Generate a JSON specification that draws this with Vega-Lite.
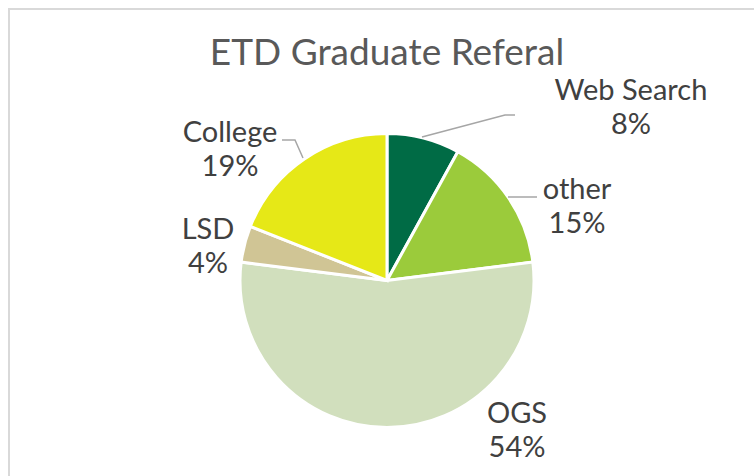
{
  "$schema": "https://vega.github.io/schema/vega-lite/v6.json",
  "autosize": "none",
  "width": 756,
  "height": 543,
  "padding": {"left": 9, "top": 9, "right": -11, "bottom": -76},
  "background": "white",
  "config": {
    "view": {"stroke": "#D9D9D9", "strokeWidth": 2},
    "font": "Lato"
  },
  "title": {
    "text": "ETD Graduate Referal",
    "frame": "group",
    "anchor": "middle",
    "baseline": "alphabetic",
    "offset": -93,
    "font": "Lato",
    "fontSize": 37,
    "fontWeight": "normal",
    "color": "#595959"
  },
  "datasets": {
    "shares": [
      {"category": "Web Search", "share": 0.08, "rank": 1},
      {"category": "other", "share": 0.15, "rank": 2},
      {"category": "OGS", "share": 0.54, "rank": 3},
      {"category": "LSD", "share": 0.04, "rank": 4},
      {"category": "College", "share": 0.19, "rank": 5}
    ],
    "leaders": [
      {"label": "Web Search", "px": 35, "py": 143.5, "k": 1},
      {"label": "Web Search", "px": 118, "py": 165.5, "k": 2},
      {"label": "Web Search", "px": 128, "py": 165.5, "k": 3},
      {"label": "other", "px": 121, "py": 83.5, "k": 1},
      {"label": "other", "px": 150, "py": 83.5, "k": 2},
      {"label": "College", "px": -84, "py": 122.5, "k": 1},
      {"label": "College", "px": -92, "py": 140.5, "k": 2},
      {"label": "College", "px": -105, "py": 140.5, "k": 3}
    ]
  },
  "data": {"name": "shares"},
  "transform": [
    {"calculate": "datum.category + '\\n' + format(datum.share, '.0%')", "as": "label"}
  ],
  "layer": [
    {
      "mark": {"type": "arc", "outerRadius": 147, "stroke": "white", "strokeWidth": 3},
      "encoding": {
        "theta": {"field": "share", "type": "quantitative", "stack": true},
        "order": {"field": "rank", "type": "quantitative"},
        "color": {
          "field": "category",
          "type": "nominal",
          "legend": null,
          "scale": {
            "domain": ["Web Search", "other", "OGS", "LSD", "College"],
            "range": ["#006B45", "#9BCB3B", "#D1DFBD", "#D0C595", "#E6E817"]
          }
        }
      }
    },
    {
      "data": {"name": "leaders"},
      "transform": [],
      "mark": {"type": "line", "color": "#A6A6A6", "strokeWidth": 1.5},
      "encoding": {
        "x": {"field": "px", "type": "quantitative", "axis": null, "scale": {"domain": [-378, 378], "nice": false, "zero": false}},
        "y": {"field": "py", "type": "quantitative", "axis": null, "scale": {"domain": [-271.5, 271.5], "nice": false, "zero": false}},
        "detail": {"field": "label", "type": "nominal"},
        "order": {"field": "k", "type": "quantitative"}
      }
    },
    {
      "mark": {"type": "text", "radius": 190, "dx": 196.7, "dy": -5, "fontSize": 29, "color": "#404040", "lineBreak": "\n", "lineHeight": 34, "align": "center", "baseline": "middle"},
      "encoding": {
        "theta": {"field": "share", "type": "quantitative", "stack": true},
        "order": {"field": "rank", "type": "quantitative"},
        "text": {"condition": {"test": "datum.category === 'Web Search'", "field": "label"}, "value": ""}
      }
    },
    {
      "mark": {"type": "text", "radius": 190, "dx": 32.9, "dy": 16, "fontSize": 29, "color": "#404040", "lineBreak": "\n", "lineHeight": 34, "align": "center", "baseline": "middle"},
      "encoding": {
        "theta": {"field": "share", "type": "quantitative", "stack": true},
        "order": {"field": "rank", "type": "quantitative"},
        "text": {"condition": {"test": "datum.category === 'other'", "field": "label"}, "value": ""}
      }
    },
    {
      "mark": {"type": "text", "radius": 190, "dx": 130, "dy": -57, "fontSize": 29, "color": "#404040", "lineBreak": "\n", "lineHeight": 34, "align": "center", "baseline": "middle"},
      "encoding": {
        "theta": {"field": "share", "type": "quantitative", "stack": true},
        "order": {"field": "rank", "type": "quantitative"},
        "text": {"condition": {"test": "datum.category === 'OGS'", "field": "label"}, "value": ""}
      }
    },
    {
      "mark": {"type": "text", "radius": 190, "dx": 5, "dy": -3, "fontSize": 29, "color": "#404040", "lineBreak": "\n", "lineHeight": 34, "align": "center", "baseline": "middle"},
      "encoding": {
        "theta": {"field": "share", "type": "quantitative", "stack": true},
        "order": {"field": "rank", "type": "quantitative"},
        "text": {"condition": {"test": "datum.category === 'LSD'", "field": "label"}, "value": ""}
      }
    },
    {
      "mark": {"type": "text", "radius": 190, "dx": -50.2, "dy": 9.5, "fontSize": 29, "color": "#404040", "lineBreak": "\n", "lineHeight": 34, "align": "center", "baseline": "middle"},
      "encoding": {
        "theta": {"field": "share", "type": "quantitative", "stack": true},
        "order": {"field": "rank", "type": "quantitative"},
        "text": {"condition": {"test": "datum.category === 'College'", "field": "label"}, "value": ""}
      }
    }
  ]
}
